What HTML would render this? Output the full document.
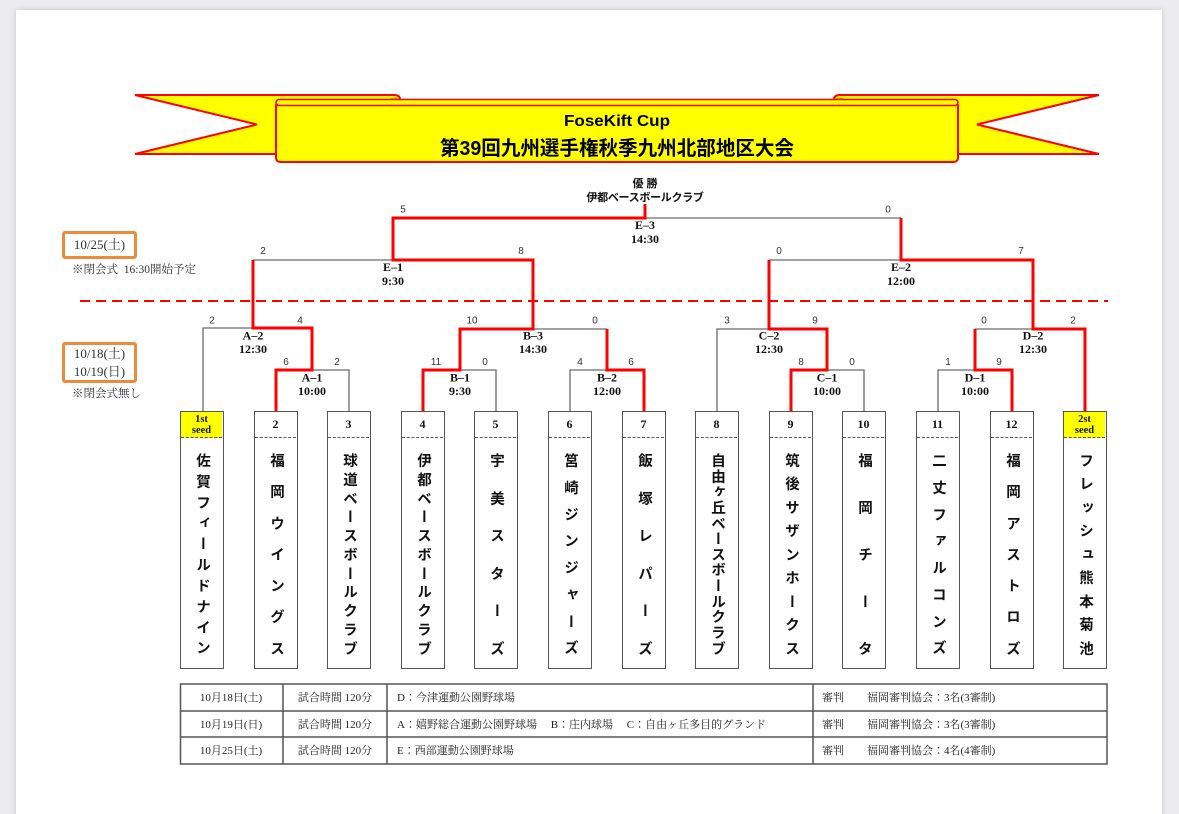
<!DOCTYPE html>
<html lang="ja">
<head>
<meta charset="utf-8">
<style>
  html,body{margin:0;padding:0;}
  body{width:1179px;height:814px;background:#ececf0;overflow:hidden;position:relative;}
  #root{position:absolute;left:0;top:0;width:1179px;height:814px;overflow:hidden;}
  #pg{position:absolute;left:16px;top:10px;width:1146px;height:830px;background:#fff;box-shadow:0 0 5px rgba(0,0,0,.16);}
  svg{position:absolute;left:0;top:0;}
  .sc{font-family:"Liberation Sans",sans-serif;font-size:10px;fill:#333;text-anchor:middle;}
  .lb{font-family:"Liberation Serif",serif;font-weight:bold;font-size:12px;fill:#111;text-anchor:middle;}
  .tb{font-family:"Liberation Serif","Noto Serif CJK SC",serif;font-size:11px;fill:#222;}
  .box{position:absolute;top:411px;width:44px;height:258px;box-sizing:border-box;border:1.5px solid #555;background:#fff;}
  .hd{position:absolute;left:0;top:0;width:41px;height:26px;border-bottom:1px dashed #555;box-sizing:border-box;
      font-family:"Liberation Serif",serif;font-weight:bold;font-size:12px;color:#111;text-align:center;line-height:25px;}
  .hd.y{background:#ffff00;font-size:10.5px;line-height:11px;padding-top:2px;}
  .nm{position:absolute;left:0;top:41px;width:41px;height:202px;writing-mode:vertical-rl;display:flex;
      justify-content:space-between;align-items:center;
      font-family:"Liberation Sans","Noto Sans CJK JP",sans-serif;font-weight:bold;font-size:14.5px;color:#111;line-height:15px;}
  .nm span{display:block;}
  .ob{position:absolute;left:62px;width:75px;box-sizing:border-box;border:3px solid #ee8a3c;border-radius:3px;
      font-family:"Liberation Serif","Noto Serif CJK SC",serif;font-size:13px;color:#333;text-align:center;}
  .note{position:absolute;left:72px;font-family:"Liberation Serif","Noto Serif CJK SC",serif;font-size:11.5px;color:#333;white-space:nowrap;}
</style>
</head>
<body>
<div id="root">
<div id="pg"></div>

<svg width="1179" height="814" viewBox="0 0 1179 814">
  <!-- Banner tails -->
  <path d="M135,95 H394 Q400,95 400,99.5 V106 H276 V154 H135 L257,124.5 Z" fill="#ffff00" stroke="#ff0000" stroke-width="2"/>
  <path d="M1099,95 H840 Q834,95 834,99.5 V106 H958 V154 H1099 L977,124.5 Z" fill="#ffff00" stroke="#ff0000" stroke-width="2"/>
  <ellipse cx="394" cy="100.5" rx="5" ry="3" fill="#b4b400"/>
  <ellipse cx="840" cy="100.5" rx="5" ry="3" fill="#b4b400"/>
  <!-- Main banner -->
  <rect x="276" y="102" width="682" height="60" rx="4" fill="#ffff00" stroke="#ff0000" stroke-width="2"/>
  <rect x="276" y="99.5" width="682" height="6" rx="3" fill="#ffff00" stroke="#ff0000" stroke-width="1.6"/>
  <text x="617" y="126" text-anchor="middle" font-family="Liberation Sans, sans-serif" font-weight="bold" font-size="16" fill="#000" textLength="106" lengthAdjust="spacingAndGlyphs">FoseKift Cup</text>
  <text x="617" y="155" text-anchor="middle" font-family="Liberation Sans, Noto Sans CJK JP, sans-serif" font-weight="bold" font-size="20" fill="#000" textLength="354" lengthAdjust="spacingAndGlyphs">第39回九州選手権秋季九州北部地区大会</text>

  <!-- Dashed separator -->
  <path d="M80,301 H1108" stroke="#ff0000" stroke-width="2" stroke-dasharray="10,6" fill="none"/>

  <!-- Gray bracket lines -->
  <g stroke="#6a6a6a" stroke-width="1.3" fill="none">
    <path d="M203,411 V328 H253"/>
    <path d="M312,370 H349 V411"/>
    <path d="M253,260 H393"/>
    <path d="M460,370 H496 V411"/>
    <path d="M533,329 H607"/>
    <path d="M570,411 V370 H607"/>
    <path d="M645,218 H901"/>
    <path d="M717,411 V329 H769"/>
    <path d="M827,370 H864 V411"/>
    <path d="M769,260 H901"/>
    <path d="M938,411 V370 H975"/>
    <path d="M975,329 H1033"/>
  </g>
  <!-- Red winning paths -->
  <g stroke="#ff0000" stroke-width="3" fill="none" stroke-linejoin="miter">
    <path d="M276,411 V370 H312 V328 H253 V260"/>
    <path d="M423,411 V370 H460 V329 H533 V260 H393 V218 H645 V204"/>
    <path d="M644,411 V370 H607 V329"/>
    <path d="M791,411 V370 H827 V329 H769 V260"/>
    <path d="M1012,411 V370 H975 V329"/>
    <path d="M1085,411 V329 H1033 V260 H901 V218"/>
  </g>

  <!-- Winner -->
  <text x="645" y="187" text-anchor="middle" font-family="Liberation Sans, Noto Sans CJK JP, sans-serif" font-weight="bold" font-size="11" fill="#111">優 勝</text>
  <text x="645" y="201" text-anchor="middle" font-family="Liberation Sans, Noto Sans CJK JP, sans-serif" font-weight="bold" font-size="11" fill="#111" letter-spacing="-0.3">伊都ベースボールクラブ</text>

  <!-- Scores -->
  <text class="sc" x="403" y="212.5">5</text>
  <text class="sc" x="888" y="212.5">0</text>
  <text class="sc" x="263" y="254">2</text>
  <text class="sc" x="521" y="254">8</text>
  <text class="sc" x="779" y="254">0</text>
  <text class="sc" x="1021" y="254">7</text>

  <text class="sc" x="212" y="323.5">2</text>
  <text class="sc" x="300" y="323.5">4</text>
  <text class="sc" x="472" y="323.5">10</text>
  <text class="sc" x="595" y="323.5">0</text>
  <text class="sc" x="727" y="323.5">3</text>
  <text class="sc" x="815" y="323.5">9</text>
  <text class="sc" x="984" y="323.5">0</text>
  <text class="sc" x="1073" y="323.5">2</text>

  <text class="sc" x="286" y="365">6</text>
  <text class="sc" x="337" y="365">2</text>
  <text class="sc" x="436" y="365">11</text>
  <text class="sc" x="485" y="365">0</text>
  <text class="sc" x="580" y="365">4</text>
  <text class="sc" x="631" y="365">6</text>
  <text class="sc" x="801" y="365">8</text>
  <text class="sc" x="852" y="365">0</text>
  <text class="sc" x="948" y="365">1</text>
  <text class="sc" x="999" y="365">9</text>

  <!-- Match labels -->
  <text class="lb" x="645" y="229">E–3</text><text class="lb" x="645" y="243">14:30</text>
  <text class="lb" x="393" y="271">E–1</text><text class="lb" x="393" y="285">9:30</text>
  <text class="lb" x="901" y="271">E–2</text><text class="lb" x="901" y="285">12:00</text>
  <text class="lb" x="253" y="339.5">A–2</text><text class="lb" x="253" y="353">12:30</text>
  <text class="lb" x="533" y="339.5">B–3</text><text class="lb" x="533" y="353">14:30</text>
  <text class="lb" x="769" y="339.5">C–2</text><text class="lb" x="769" y="353">12:30</text>
  <text class="lb" x="1033" y="339.5">D–2</text><text class="lb" x="1033" y="353">12:30</text>
  <text class="lb" x="312" y="381.5">A–1</text><text class="lb" x="312" y="395">10:00</text>
  <text class="lb" x="460" y="381.5">B–1</text><text class="lb" x="460" y="395">9:30</text>
  <text class="lb" x="607" y="381.5">B–2</text><text class="lb" x="607" y="395">12:00</text>
  <text class="lb" x="827" y="381.5">C–1</text><text class="lb" x="827" y="395">10:00</text>
  <text class="lb" x="975" y="381.5">D–1</text><text class="lb" x="975" y="395">10:00</text>

  <!-- Schedule table -->
  <g stroke="#555" stroke-width="1.5" fill="none">
    <rect x="180.5" y="684" width="926.5" height="80"/>
    <path d="M180.5,711 H1107 M180.5,737 H1107 M283,684 V764 M387,684 V764 M813,684 V764"/>
  </g>
  <g class="tb">
    <text x="231" y="701" text-anchor="middle">10月18日(土)</text>
    <text x="231" y="728" text-anchor="middle">10月19日(日)</text>
    <text x="231" y="754" text-anchor="middle">10月25日(土)</text>
    <text x="335" y="701" text-anchor="middle">試合時間 120分</text>
    <text x="335" y="728" text-anchor="middle">試合時間 120分</text>
    <text x="335" y="754" text-anchor="middle">試合時間 120分</text>
    <text x="397" y="701">D：今津運動公園野球場</text>
    <text x="397" y="728">A：嬉野総合運動公園野球場　 B：庄内球場　 C：自由ヶ丘多目的グランド</text>
    <text x="397" y="754">E：西部運動公園野球場</text>
    <text x="822" y="701">審判</text><text x="867" y="701">福岡審判協会：3名(3審制)</text>
    <text x="822" y="728">審判</text><text x="867" y="728">福岡審判協会：3名(3審制)</text>
    <text x="822" y="754">審判</text><text x="867" y="754">福岡審判協会：4名(4審制)</text>
  </g>
</svg>

<!-- Left date labels -->
<div class="ob" style="top:231px;height:28px;line-height:22px;">10/25(土)</div>
<div class="note" style="top:261px;">※閉会式&nbsp;&nbsp;16:30開始予定</div>
<div class="ob" style="top:342px;height:41px;line-height:17.5px;padding-top:0px;">10/18(土)<br>10/19(日)</div>
<div class="note" style="top:385px;">※閉会式無し</div>

<!-- Team boxes -->
<div class="box" style="left:180px;"><div class="hd y">1st<br>seed</div>
  <div class="nm"><span>佐</span><span>賀</span><span>フ</span><span>ィ</span><span>ー</span><span>ル</span><span>ド</span><span>ナ</span><span>イ</span><span>ン</span></div></div>
<div class="box" style="left:254px;"><div class="hd">2</div>
  <div class="nm"><span>福</span><span>岡</span><span>ウ</span><span>イ</span><span>ン</span><span>グ</span><span>ス</span></div></div>
<div class="box" style="left:327px;"><div class="hd">3</div>
  <div class="nm"><span>球</span><span>道</span><span>ベ</span><span>ー</span><span>ス</span><span>ボ</span><span>ー</span><span>ル</span><span>ク</span><span>ラ</span><span>ブ</span></div></div>
<div class="box" style="left:401px;"><div class="hd">4</div>
  <div class="nm"><span>伊</span><span>都</span><span>ベ</span><span>ー</span><span>ス</span><span>ボ</span><span>ー</span><span>ル</span><span>ク</span><span>ラ</span><span>ブ</span></div></div>
<div class="box" style="left:474px;"><div class="hd">5</div>
  <div class="nm"><span>宇</span><span>美</span><span>ス</span><span>タ</span><span>ー</span><span>ズ</span></div></div>
<div class="box" style="left:548px;"><div class="hd">6</div>
  <div class="nm"><span>筥</span><span>崎</span><span>ジ</span><span>ン</span><span>ジ</span><span>ャ</span><span>ー</span><span>ズ</span></div></div>
<div class="box" style="left:622px;"><div class="hd">7</div>
  <div class="nm"><span>飯</span><span>塚</span><span>レ</span><span>パ</span><span>ー</span><span>ズ</span></div></div>
<div class="box" style="left:695px;"><div class="hd">8</div>
  <div class="nm"><span>自</span><span>由</span><span>ヶ</span><span>丘</span><span>ベ</span><span>ー</span><span>ス</span><span>ボ</span><span>ー</span><span>ル</span><span>ク</span><span>ラ</span><span>ブ</span></div></div>
<div class="box" style="left:769px;"><div class="hd">9</div>
  <div class="nm"><span>筑</span><span>後</span><span>サ</span><span>ザ</span><span>ン</span><span>ホ</span><span>ー</span><span>ク</span><span>ス</span></div></div>
<div class="box" style="left:842px;"><div class="hd">10</div>
  <div class="nm"><span>福</span><span>岡</span><span>チ</span><span>ー</span><span>タ</span></div></div>
<div class="box" style="left:916px;"><div class="hd">11</div>
  <div class="nm"><span>二</span><span>丈</span><span>フ</span><span>ァ</span><span>ル</span><span>コ</span><span>ン</span><span>ズ</span></div></div>
<div class="box" style="left:990px;"><div class="hd">12</div>
  <div class="nm"><span>福</span><span>岡</span><span>ア</span><span>ス</span><span>ト</span><span>ロ</span><span>ズ</span></div></div>
<div class="box" style="left:1063px;"><div class="hd y">2st<br>seed</div>
  <div class="nm"><span>フ</span><span>レ</span><span>ッ</span><span>シ</span><span>ュ</span><span>熊</span><span>本</span><span>菊</span><span>池</span></div></div>

</div>
</body>
</html>
